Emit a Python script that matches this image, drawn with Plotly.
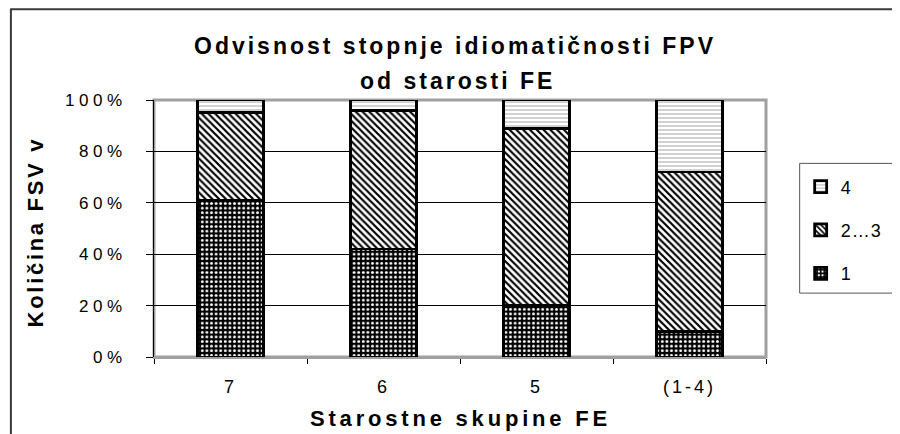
import plotly.graph_objects as go

categories = ['7', '6', '5', '(1-4)']
s1 = [61, 42, 20, 10]
s23 = [34, 54, 69, 62]
s4 = [5, 4, 11, 28]
y_ticks = [0, 20, 40, 60, 80, 100]
series_names = ['1', '2…3', '4']
title_lines = ['Odvisnost stopnje idiomatičnosti FPV', 'od starosti FE']
x_title = 'Starostne skupine FE'
y_title = 'Količina FSV v'

FONT = "Arial, 'Liberation Sans', sans-serif"
OFF = 8  # page body margin
W, H = 900 - OFF, 434 - OFF
# plot area in page (screen) coordinates
L, R, T, B = 154, 772, 99.5, 357


def sp(text, ls):
    return f'<span style="letter-spacing:{ls}px">{text}</span>'


def px_x(v):
    return (v - L) / (R - L)


def px_y(v):
    return (B - v) / (B - T)


fig = go.Figure()
line_style = dict(color='black', width=2.8)
fig.add_trace(go.Bar(
    x=categories, y=s1, name=sp(series_names[0], 1), legendgroup='g1', legendrank=3,
    marker=dict(color='black', line=line_style,
                pattern=dict(shape='.', fgcolor='white', bgcolor='black',
                             size=4.6, solidity=0.3, fillmode='replace')),
))
fig.add_trace(go.Bar(
    x=categories, y=s23, name=sp(series_names[1], 1), legendgroup='g2', legendrank=2,
    marker=dict(color='white', line=line_style,
                pattern=dict(shape='\\', fgcolor='black', bgcolor='white',
                             size=4.8, solidity=0.45, fillmode='replace')),
))
fig.add_trace(go.Bar(
    x=categories, y=s4, name=sp(series_names[2], 1), legendgroup='g3', legendrank=1,
    marker=dict(color='white', line=line_style,
                pattern=dict(shape='-', fgcolor='#999999', bgcolor='white',
                             size=4, solidity=0.22, fillmode='replace')),
))

fig.update_layout(
    width=W, height=H,
    margin=dict(l=L - OFF, r=W - (R - OFF), t=T - OFF, b=H - (B - OFF), pad=0),
    barmode='stack', bargap=0.565,
    paper_bgcolor='white', plot_bgcolor='white',
    font=dict(family=FONT, color='black', size=17),
    showlegend=True,
    legend=dict(traceorder='grouped', x=px_x(807), y=px_y(168),
                xanchor='left', yanchor='top', tracegroupgap=17,
                font=dict(size=18, family=FONT), bgcolor='rgba(0,0,0,0)',
                borderwidth=0),
    xaxis=dict(type='category', tickson='boundaries', ticks='outside',
               ticklen=5, tickcolor='black', tickwidth=1,
               tickvals=categories, ticktext=[sp(c, 3) for c in categories],
               showline=True, linecolor='#a0a0a0', linewidth=2,
               showgrid=False, tickfont=dict(size=18),
               ticklabelstandoff=12),
    yaxis=dict(range=[0, 100], tickvals=y_ticks,
               ticktext=[sp(f'{v}%', 4.5) for v in y_ticks],
               ticks='outside', ticklen=7, tickcolor='black',
               showline=True, linecolor='black', linewidth=1,
               showgrid=True, gridcolor='black', gridwidth=1,
               zeroline=False, tickfont=dict(size=17),
               ticklabelstandoff=16),
    shapes=[
        dict(type='rect', xref='paper', yref='paper', x0=0, x1=1, y0=0, y1=1,
             line=dict(color='#a0a0a0', width=3), layer='between'),
        dict(type='rect', xref='paper', yref='paper',
             x0=px_x(806), x1=px_x(910), y0=px_y(293), y1=px_y(163),
             line=dict(color='#555555', width=1), fillcolor='rgba(0,0,0,0)'),
        dict(type='line', xref='paper', yref='paper',
             x0=px_x(9), x1=px_x(910), y0=px_y(8.5), y1=px_y(8.5),
             line=dict(color='#3a3a3a', width=2)),
        dict(type='line', xref='paper', yref='paper',
             x0=px_x(9.5), x1=px_x(9.5), y0=px_y(8), y1=px_y(450),
             line=dict(color='#3a3a3a', width=2)),
    ],
    annotations=[
        dict(text=f'<b>{sp(title_lines[0], 3)}</b>', xref='paper', yref='paper',
             x=px_x(458), y=px_y(45), showarrow=False, font=dict(size=23),
             xanchor='center', yanchor='middle'),
        dict(text=f'<b>{sp(title_lines[1], 3)}</b>', xref='paper', yref='paper',
             x=px_x(460), y=px_y(80), showarrow=False, font=dict(size=23),
             xanchor='center', yanchor='middle'),
        dict(text=f'<b>{sp(x_title, 3.8)}</b>', xref='paper', yref='paper',
             x=px_x(463), y=px_y(419), showarrow=False, font=dict(size=22),
             xanchor='center', yanchor='middle'),
        dict(text=f'<b>{sp(y_title, 2.7)}</b>', xref='paper', yref='paper',
             x=px_x(34), y=px_y(232), showarrow=False, font=dict(size=22),
             textangle=-90, xanchor='center', yanchor='middle'),
    ],
)

fig.write_html('out.html')
